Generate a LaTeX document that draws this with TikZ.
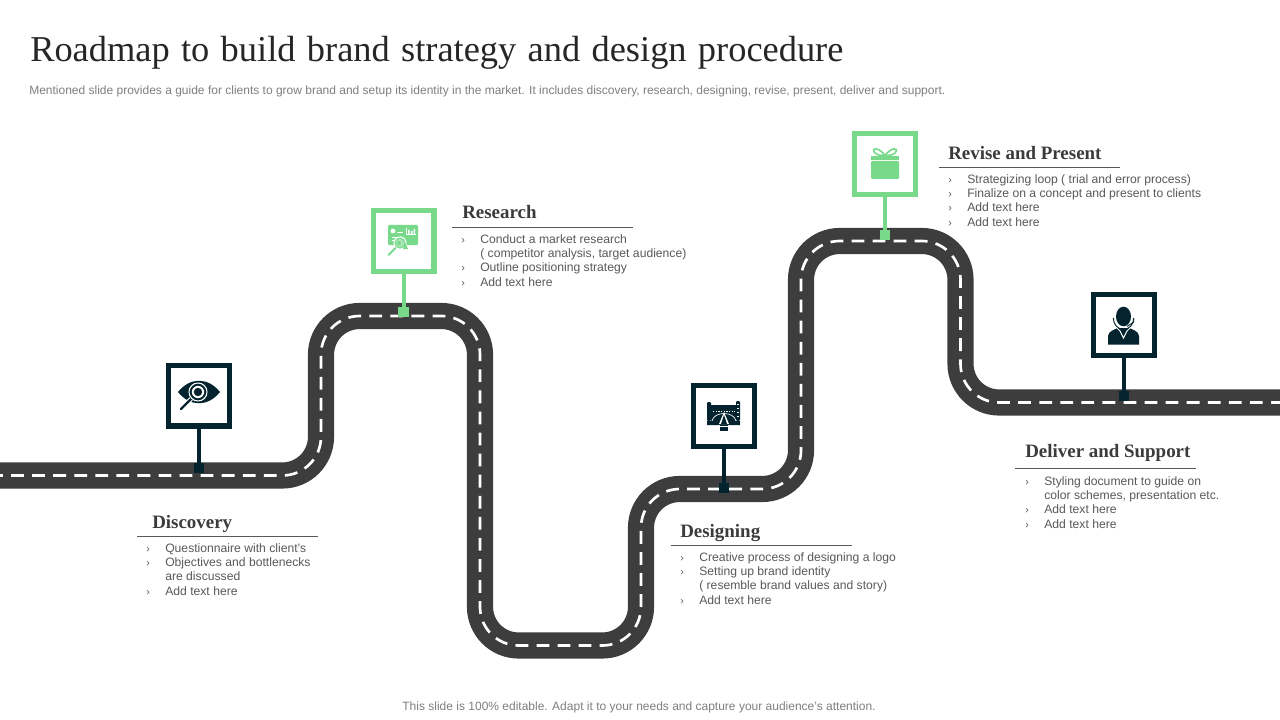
\documentclass[tikz,border=0pt]{standalone}
\usepackage{fontspec}
\setmainfont{Liberation Serif}
\setsansfont{Liberation Sans}
\definecolor{road}{HTML}{3D3D3D}
\definecolor{navy}{HTML}{03242E}
\definecolor{mint}{HTML}{78D98B}
\definecolor{head}{HTML}{3B3B3B}
\definecolor{body}{HTML}{595959}
\definecolor{sub}{HTML}{7F7F7F}
\newcommand{\bl}[1]{\makebox[14.25pt][l]{\fontsize{8}{8}\selectfont ›}#1\\}
\newcommand{\cn}[1]{\makebox[14.25pt][l]{}#1\\}
\tikzset{
  x=0.75pt,y=-0.75pt,
  signbox/.style={draw=#1,line width=3.9pt,fill=white,minimum size=45.6pt,inner sep=0pt,outer sep=0pt},
  pin/.style={fill=#1,minimum size=7.8pt,inner sep=0pt,outer sep=0pt},
  post/.style={draw=#1,line width=3pt},
  heading/.style={anchor=base west,inner sep=0pt,font=\fontsize{14.2}{16}\selectfont\bfseries,text=head},
  bullets/.style={anchor=north west,inner sep=0pt,align=left,text=body,font=\sffamily\fontsize{9.12}{10.75}\selectfont},
  rulel/.style={draw=body,line width=0.55pt},
}
\begin{document}
\begin{tikzpicture}
\useasboundingbox[fill=white] (0,0) rectangle (1280,720);
\def\roadpath{(-10,475.5) -- (321,475.5) -- (321,316) -- (480,316) -- (480,645.5) -- (641,645.5) -- (641,489) -- (801,489) -- (801,241) -- (960.5,241) -- (960.5,402.5) -- (1290,402.5)}
\draw[road,line width=19.6pt,rounded corners=29pt] \roadpath;
\draw[white,line width=2pt,rounded corners=29pt,dash pattern=on 9.6pt off 6.2pt] \roadpath;

% Title and captions
\node[anchor=base west,inner sep=0pt,text=black!85,font=\fontsize{27.3}{32}\selectfont] (title) at (30,61.5) {\spaceskip 8.5pt\relax Roadmap to build brand strategy and design procedure};
\node[anchor=base west,inner sep=0pt,text=sub,font=\sffamily\fontsize{9}{11}\selectfont] (subtitle) at (29,95) {Mentioned slide provides a guide for clients to grow brand and setup its identity in the market. It includes discovery, research, designing, revise, present, deliver and support.};
\node[anchor=base,inner sep=0pt,text=sub,font=\sffamily\fontsize{9}{11}\selectfont] (footer) at (639,710) {This slide is 100\% editable. Adapt it to your needs and capture your audience's attention.};

% Signs, posts, pins
\node[pin=navy] (p1) at (199,468) {};
\node[pin=mint] (p2) at (403.5,312) {};
\node[pin=navy] (p3) at (724,488) {};
\node[pin=mint] (p4) at (885,235) {};
\node[pin=navy] (p5) at (1124,396) {};
\node[signbox=navy] (s1) at (199,395.5) {};
\node[signbox=mint] (s2) at (403.5,241) {};
\node[signbox=navy] (s3) at (724,416) {};
\node[signbox=mint] (s4) at (885,164) {};
\node[signbox=navy] (s5) at (1124,325) {};
\draw[post=navy] (s1) -- (p1);
\draw[post=mint] (s2) -- (p2);
\draw[post=navy] (s3) -- (p3);
\draw[post=mint] (s4) -- (p4);
\draw[post=navy] (s5) -- (p5);

% Eye icon
\fill[navy] (178,392) .. controls (190,377) and (208,377) .. (220,392) .. controls (208,407) and (190,407) .. (178,392) -- cycle;
\draw[white,line width=3.2pt] (191,399) -- (181,409);
\draw[navy,line width=1.6pt,line cap=round] (191,399) -- (181,409);
\draw[white,line width=0.8pt] (198,392) circle (9);
\fill[white] (198,392) circle (6.2);
\fill[navy] (198,392) circle (4.2);

% Research icon
\fill[mint,rounded corners=0.8pt] (388,225) rectangle (418,245);
\fill[white] (393,231) circle (2.4);
\draw[white,line width=0.6pt] (397,232) -- (403,232) (392,237) -- (402,237) (392,240) -- (400,240);
\draw[white,line width=0.7pt] (406,234) -- (416,234) (406,234) -- (406,228);
\fill[white] (408,230) rectangle (409.5,234) (411,231) rectangle (412.5,234) (413.5,229) rectangle (415,234);
\fill[white] (400,243) circle (6.6);
\fill[mint] (400,243) circle (5.6);
\fill[white!35!mint] (400,243) circle (4.4);
\fill[mint] (399,243) circle (2) (403,249) -- (408,249) -- (405,243) -- cycle;
\draw[mint,line width=1.5pt,line cap=round] (395.5,248) -- (388.5,255);

% Design icon
\fill[navy,rounded corners=0.8pt] (707,402) rectangle (711,421);
\fill[navy,rounded corners=0.8pt] (736,401) rectangle (740,421);
\fill[navy] (711,405) -- (736,405) -- (736,421) -- (740,421) -- (740,425) -- (707,425) -- (707,421) -- (711,421) -- cycle;
\draw[white,line width=0.5pt] (712,421) .. controls (714,411) and (734,411) .. (736,421);
\draw[white,line width=0.5pt,dash pattern=on 1pt off 1pt] (713,411) -- (735,411);
\fill[white] (724,412) -- (729,424) -- (719,424) -- cycle;
\fill[navy] (724,415) -- (727,424) -- (721,424) -- cycle;
\fill[navy] (720,425) rectangle (728,431);
\draw[white,line width=0.6pt] (720,426) -- (728,426);
\draw[white,line width=0.4pt] (737,404) -- (739,404) (737,408) -- (739,408) (737,412) -- (739,412) (737,416) -- (739,416);

% Gift icon
\fill[mint] (871,156) rectangle (899,160);
\fill[mint,rounded corners=0.8pt] (871,161) rectangle (899,179);
\draw[mint,line width=1.2pt] (885,155.5) .. controls (879,147) and (870,147) .. (875,153) .. controls (877,155) and (881,155.5) .. (885,155.5) .. controls (891,147) and (900,147) .. (895,153) .. controls (893,155) and (889,155.5) .. (885,155.5);

% Person icon
\fill[navy] (1108,344.5) -- (1108,336) .. controls (1108,331) and (1116,329) .. (1119,327.5) -- (1128,327.5) .. controls (1131,329) and (1139,331) .. (1139,336) -- (1139,344.5) -- cycle;
\draw[white,line width=0.7pt] (1117,328) -- (1120,331) -- (1123.5,338) -- (1127,331) -- (1130,328);
\fill[white] (1118.5,325) rectangle (1128.5,328);
\fill[navy] (1123.5,316.5) ellipse (7.5 and 9.8);
\draw[navy,line width=0.7pt] (1113.3,318) arc (180:0:10.2 and 11.5);
\draw[navy,line width=0.7pt] (1133.7,318) -- (1133.7,322) -- (1127,326.5);

% Labelled blocks
\node[heading] (h1) at (152,528.5) {Discovery};
\draw[rulel] (137,536.5) -- (318,536.5);
\node[bullets] (b1) at (146,543) {\bl{Questionnaire with client's}\bl{Objectives and bottlenecks}\cn{are discussed}\bl{Add text here}};

\node[heading] (h2) at (462,218.5) {Research};
\draw[rulel] (452,227) -- (633,227);
\node[bullets] (b2) at (461,234) {\bl{Conduct a market research}\cn{( competitor analysis, target audience)}\bl{Outline positioning strategy}\bl{Add text here}};

\node[heading] (h3) at (680,537.5) {Designing};
\draw[rulel] (671,545.5) -- (852,545.5);
\node[bullets] (b3) at (680,552) {\bl{Creative process of designing a logo}\bl{Setting up brand identity}\cn{( resemble brand values and story)}\bl{Add text here}};

\node[heading] (h4) at (948,159.5) {Revise and Present};
\draw[rulel] (939,167) -- (1120,167);
\node[bullets] (b4) at (948,174) {\bl{Strategizing loop ( trial and error process)}\bl{Finalize on a concept and present to clients}\bl{Add text here}\bl{Add text here}};

\node[heading] (h5) at (1025,457.5) {Deliver and Support};
\draw[rulel] (1015,468) -- (1196,468);
\node[bullets] (b5) at (1025,476) {\bl{Styling document to guide on}\cn{color schemes, presentation etc.}\bl{Add text here}\bl{Add text here}};
\end{tikzpicture}
\end{document}
